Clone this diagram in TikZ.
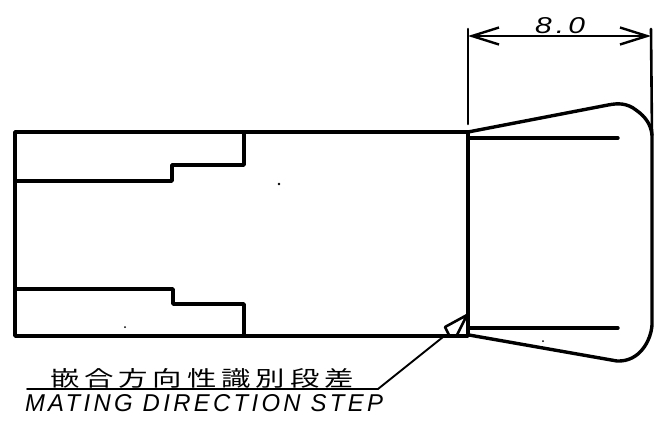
\documentclass[tikz,border=0pt]{standalone}
\usepackage{fontspec}
\usepackage{graphicx}
\setmainfont{Liberation Sans}
\newfontfamily\cjkfont{Noto Sans CJK JP}
\newfontfamily\spacedfont[LetterSpace=14,ItalicFont={Liberation Sans Italic}]{Liberation Sans}
\usetikzlibrary{arrows.meta}
\tikzset{
  outline/.style={line width=3.4pt,line join=round,line cap=round},
  thinline/.style={line width=2.6pt,line join=round,line cap=round},
  leaderline/.style={line width=1.9pt,line join=round,line cap=round},
  dimline/.style={line width=2.6pt,{Straight Barb[length=27pt,width=17pt,line width=2.4pt]}-{Straight Barb[length=27pt,width=17pt,line width=2.4pt]}},
  label/.style={inner sep=0pt,outer sep=0pt,anchor=base west}
}
\begin{document}
\begin{tikzpicture}[x=1pt,y=-1pt]
\useasboundingbox (0,0) rectangle (654,424);
% body
\coordinate (tl) at (15,132);
\coordinate (tr) at (468,132);
\coordinate (bl) at (15,336);
\coordinate (br) at (468,336);
\draw[outline] (bl) -- (tl) -- (tr) -- (br) -- cycle;
\draw[outline] (15,181) -- (172,181) -- (172,165) -- (244,165) -- (244,132);
\draw[outline] (15,289) -- (173,289) -- (173,304) -- (244,304) -- (244,336);
% head
\draw[outline] (tr) -- (608,105) .. controls (618,103) and (627,103) .. (636,110)
  .. controls (646,117) and (651,125) .. (652,135);
\draw[outline] (652,135) -- (652,325)
  .. controls (651,340) and (640,362) .. (617,361) -- (469,335);
\draw[outline] (468,138) -- (618,138);
\draw[outline] (468,328) -- (618,328);
% extension lines and dimension
\coordinate (e1) at (468,29);
\coordinate (e2) at (651,29);
\coordinate (d1) at (468,36);
\coordinate (d2) at (651,36);
\draw[thinline] (e1) -- (468,124);
\draw[thinline] (e2) -- (652,135);
\draw[dimline] (d1) -- (d2);
\node[label] (dimtext) at (535,33) {\resizebox{50pt}{16pt}{\spacedfont\itshape 8.0}};
% step marker and leader
\coordinate (s1) at (467,315);
\coordinate (s2) at (445,327);
\coordinate (s3) at (449,335);
\coordinate (s4) at (457,335);
\draw[thinline] (s3) -- (s2) -- (s1) -- (s4);
\coordinate (l1) at (443,337);
\coordinate (l2) at (378,389);
\coordinate (l3) at (27,389);
\draw[leaderline] (l1) -- (l2) -- (l3);
\node[label] (jptext) at (50,386) {\resizebox{304pt}{18pt}{\cjkfont 嵌\,合\,方\,向\,性\,識\,別\,段\,差}};
\node[label] (entext) at (25,411) {\resizebox{358pt}{17pt}{\spacedfont\itshape MATING DIRECTION STEP}};
% specks
\fill (279,184) circle (1.4pt);
\fill (125,327) circle (1pt);
\fill (543,341) circle (1pt);
\end{tikzpicture}
\end{document}
